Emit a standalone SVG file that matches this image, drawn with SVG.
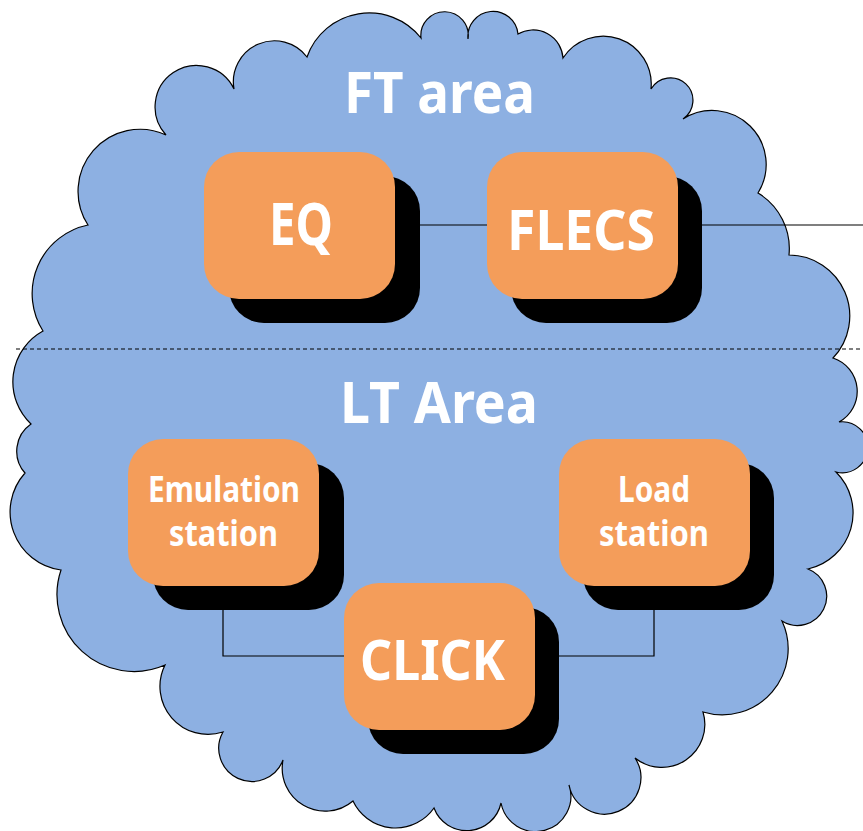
<svg xmlns="http://www.w3.org/2000/svg" width="863" height="831" viewBox="0 0 863 831">
  <style>
    .cloud { fill: #8db0e2; stroke: #000; stroke-width: 1.2; }
    .box { fill: #f49d5a; }
    .shadow { fill: #000; }
    .lbl { fill: #fff; font-family: "Noto Sans", "Open Sans", sans-serif; font-weight: bold; text-anchor: middle; }
    .area { font-size: 58px; }
    .small { font-size: 35px; }
    .conn { fill: none; stroke: #000; stroke-width: 1.2; }
    .dash { fill: none; stroke: #000; stroke-width: 1.1; stroke-dasharray: 4 3; }
  </style>
  <defs>
    <rect id="nodeShape" width="191" height="147" rx="35" ry="35"/>
  </defs>

  <g id="cloud">
    <path class="cloud" d="M88,225
      A62 62 0 0 1 166 135
      A41.5 41.5 0 1 1 234 89
      A41 41 0 0 1 307 57
      A66 66 0 0 1 421 38
      A23.7 23.7 0 1 1 468 39
      A24 24 0 0 1 518 34
      A30 30 0 0 1 563 58
      A48 48 0 0 1 651 89
      A22.5 22.5 0 1 1 683 119
      A54 54 0 0 1 758 193
      A65 65 0 0 1 789 255
      A61 61 0 0 1 833 358
      A35 35 0 0 1 839 422
      A25.5 25.5 0 1 1 836 472
      A57.5 57.5 0 0 1 808 569
      A29.2 29.2 0 1 1 782 621
      A66 66 0 0 1 703 712
      A43 43 0 0 1 635 758
      A36.3 36.3 0 1 1 569 785
      A35.25 35.25 0 1 1 501 803
      A35 35 0 0 1 434 808
      A47 47 0 0 1 353 801
      A43 43 0 0 1 283 760
      A33.2 33.2 0 1 1 223 732
      A48 48 0 0 1 165 665
      A77 77 0 0 1 61 570
      A58.5 58.5 0 0 1 25 473
      A33 33 0 0 1 31 424
      A58 58 0 0 1 43 331
      A70 70 0 0 1 88 225 Z"/>
  </g>

  <g id="divider">
    <line class="dash" x1="16" y1="349" x2="863" y2="349"/>
  </g>

  <g id="area-labels">
    <text class="lbl area" x="439.5" y="113" textLength="191" lengthAdjust="spacingAndGlyphs">FT area</text>
    <text class="lbl area" x="439" y="423" textLength="198" lengthAdjust="spacingAndGlyphs">LT Area</text>
  </g>

  <g id="connectors">
    <line class="conn" x1="395" y1="225" x2="487" y2="225"/>
    <line class="conn" x1="678" y1="225" x2="863" y2="225"/>
    <polyline class="conn" points="223,586 223,656 344,656"/>
    <polyline class="conn" points="654,586 654,656 534,656"/>
  </g>

  <g id="node-eq">
    <use href="#nodeShape" class="shadow" x="229" y="176"/>
    <use href="#nodeShape" class="box" x="204" y="152"/>
    <text class="lbl" x="301" y="245" font-size="60" textLength="64" lengthAdjust="spacingAndGlyphs">EQ</text>
  </g>

  <g id="node-flecs">
    <use href="#nodeShape" class="shadow" x="511" y="176"/>
    <use href="#nodeShape" class="box" x="487" y="152"/>
    <text class="lbl" x="581" y="250" font-size="56" textLength="148" lengthAdjust="spacingAndGlyphs">FLECS</text>
  </g>

  <g id="node-emulation">
    <use href="#nodeShape" class="shadow" x="153" y="463"/>
    <use href="#nodeShape" class="box" x="128" y="439"/>
    <text class="lbl small" x="224" y="502" textLength="152" lengthAdjust="spacingAndGlyphs">Emulation</text>
    <text class="lbl small" x="223.5" y="546" textLength="109" lengthAdjust="spacingAndGlyphs">station</text>
  </g>

  <g id="node-load">
    <use href="#nodeShape" class="shadow" x="583" y="463"/>
    <use href="#nodeShape" class="box" x="559" y="439"/>
    <text class="lbl small" x="654" y="502" textLength="72" lengthAdjust="spacingAndGlyphs">Load</text>
    <text class="lbl small" x="654" y="546" textLength="110" lengthAdjust="spacingAndGlyphs">station</text>
  </g>

  <g id="node-click">
    <use href="#nodeShape" class="shadow" x="368" y="607"/>
    <use href="#nodeShape" class="box" x="344" y="583"/>
    <text class="lbl" x="432.5" y="680" font-size="56" textLength="145" lengthAdjust="spacingAndGlyphs">CLICK</text>
  </g>
</svg>
